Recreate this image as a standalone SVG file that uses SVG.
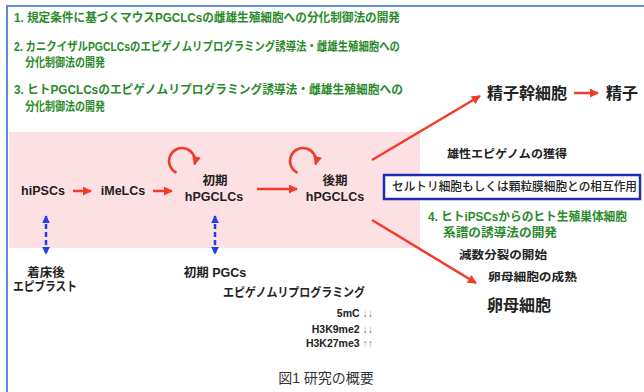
<svg xmlns="http://www.w3.org/2000/svg" width="644" height="392" viewBox="0 0 644 392">
<defs>
<style>
text{font-family:"Liberation Sans","Noto Sans CJK JP",sans-serif;}
.g{fill:#2a8a2a;font-size:12px;font-weight:bold;}
.n{fill:#222;font-size:12.5px;font-weight:bold;}
.s{fill:#222;font-size:11.5px;font-weight:bold;}
.b{fill:#222;font-size:16px;font-weight:bold;}
.m{fill:#222;font-size:10.5px;font-weight:bold;}
.ar{fill:#888;font-weight:normal;}
.red{stroke:#f23c28;stroke-width:2.5;fill:none;}
.blue{stroke:#1f3ff0;stroke-width:2.5;fill:none;stroke-dasharray:5 3;}
</style>
<marker id="ra" viewBox="0 0 10 10" refX="9" refY="5" markerWidth="3.6" markerHeight="3.6" orient="auto" markerUnits="strokeWidth">
<path d="M0,0 L10,5 L0,10 Z" fill="#f23c28"/>
</marker>
<marker id="ba" viewBox="0 0 10 10" refX="9" refY="5" markerWidth="3.2" markerHeight="3.2" orient="auto-start-reverse" markerUnits="strokeWidth">
<path d="M0,0 L10,5 L0,10 Z" fill="#1f3ff0"/>
</marker>
</defs>
<rect x="0" y="0" width="644" height="392" fill="#fff"/>
<path d="M7,392 V6 H644" fill="none" stroke="#5b8ed6" stroke-width="2"/>
<rect x="9" y="132" width="411" height="116" fill="#fde0e4"/>

<g id="goals">
<text class="g" x="14" y="22" textLength="386" lengthAdjust="spacingAndGlyphs">1. 規定条件に基づくマウスPGCLCsの雌雄生殖細胞への分化制御法の開発</text>
<text class="g" x="14" y="51" textLength="386" lengthAdjust="spacingAndGlyphs">2. カニクイザルPGCLCsのエピゲノムリプログラミング誘導法・雌雄生殖細胞への</text>
<text class="g" x="25" y="67" textLength="80" lengthAdjust="spacingAndGlyphs">分化制御法の開発</text>
<text class="g" x="14" y="94" textLength="389" lengthAdjust="spacingAndGlyphs">3. ヒトPGCLCsのエピゲノムリプログラミング誘導法・雌雄生殖細胞への</text>
<text class="g" x="25" y="111" textLength="80" lengthAdjust="spacingAndGlyphs">分化制御法の開発</text>
</g>

<g id="connectors">
<line class="red" x1="73" y1="191" x2="91" y2="191" marker-end="url(#ra)"/>
<line class="red" x1="153" y1="191" x2="172" y2="191" marker-end="url(#ra)"/>
<line class="red" x1="257" y1="189" x2="297" y2="189" marker-end="url(#ra)"/>
<line class="red" x1="372" y1="160" x2="480" y2="96" marker-end="url(#ra)"/>
<line class="red" x1="372" y1="220" x2="476" y2="283" marker-end="url(#ra)"/>
<line class="red" x1="574" y1="93" x2="598" y2="93" marker-end="url(#ra)"/>
<path class="red" d="M176.5,172.8 A13,13 0 1 1 194.6,164.4" marker-end="url(#ra)"/>
<path class="red" d="M297.5,172.8 A13,13 0 1 1 315.6,164.4" marker-end="url(#ra)"/>
<line class="blue" x1="46" y1="216" x2="46" y2="254" marker-start="url(#ba)" marker-end="url(#ba)"/>
<line class="blue" x1="215" y1="216" x2="215" y2="254" marker-start="url(#ba)" marker-end="url(#ba)"/>
</g>

<g id="hiPSCs"><text class="n" x="43" y="195" text-anchor="middle">hiPSCs</text></g>
<g id="iMeLCs"><text class="n" x="123" y="195" text-anchor="middle">iMeLCs</text></g>
<g id="early-hPGCLCs"><text class="n" x="215" y="185" text-anchor="middle">初期</text><text class="n" x="214" y="201" text-anchor="middle">hPGCLCs</text></g>
<g id="late-hPGCLCs"><text class="n" x="335" y="185" text-anchor="middle">後期</text><text class="n" x="335" y="201" text-anchor="middle">hPGCLCs</text></g>
<g id="sperm-stem"><text class="b" x="487" y="99">精子幹細胞</text></g>
<g id="sperm"><text class="b" x="606" y="99">精子</text></g>
<g id="oocyte"><text class="b" x="487" y="311">卵母細胞</text></g>

<g id="notes">
<text class="s" x="447" y="158" textLength="120" lengthAdjust="spacingAndGlyphs">雄性エピゲノムの獲得</text>
<rect x="384" y="175" width="256" height="24" fill="#fff" stroke="#1c2db0" stroke-width="2.5"/>
<text x="392" y="191" fill="#222" font-size="12px" font-weight="500" textLength="245" lengthAdjust="spacingAndGlyphs">セルトリ細胞もしくは顆粒膜細胞との相互作用</text>
<text class="g" x="428" y="221" textLength="199" lengthAdjust="spacingAndGlyphs">4. ヒトiPSCsからのヒト生殖巣体細胞</text>
<text class="g" x="443" y="237" textLength="114" lengthAdjust="spacingAndGlyphs">系譜の誘導法の開発</text>
<text class="s" x="459" y="259" textLength="88" lengthAdjust="spacingAndGlyphs">減数分裂の開始</text>
<text class="s" x="488" y="281" textLength="89" lengthAdjust="spacingAndGlyphs">卵母細胞の成熟</text>
</g>

<g id="epiblast"><text class="n" x="46" y="277" text-anchor="middle">着床後</text><text class="n" x="45" y="291" text-anchor="middle" textLength="64" lengthAdjust="spacingAndGlyphs">エピブラスト</text></g>
<g id="early-PGCs"><text class="n" x="215" y="277" text-anchor="middle">初期 PGCs</text></g>
<g id="reprogramming">
<text class="n" x="223" y="297" textLength="142" lengthAdjust="spacingAndGlyphs">エピゲノムリプログラミング</text>
<text class="m" x="373" y="317" text-anchor="end">5mC <tspan class="ar">↓↓</tspan></text>
<text class="m" x="373" y="333" text-anchor="end">H3K9me2 <tspan class="ar">↓↓</tspan></text>
<text class="m" x="373" y="347" text-anchor="end">H3K27me3 <tspan class="ar">↑↑</tspan></text>
</g>
<text x="326" y="383" text-anchor="middle" fill="#333" font-size="14px">図1 研究の概要</text>
</svg>
